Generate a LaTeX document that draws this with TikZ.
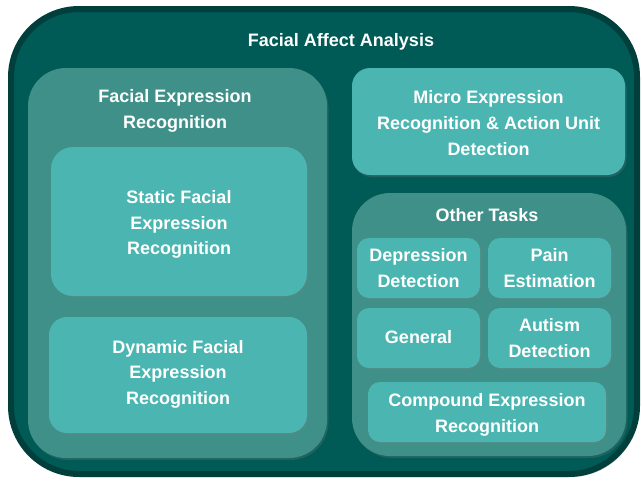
\documentclass[tikz,border=0pt]{standalone}
\usepackage{fontspec}
\setmainfont{Liberation Sans}
\usetikzlibrary{shadows}
\definecolor{outerfill}{HTML}{005A56}
\definecolor{outerline}{HTML}{003F3C}
\definecolor{panelfill}{HTML}{3F9088}
\definecolor{boxfill}{HTML}{4BB5B1}
\tikzset{
  lbl/.style={text=white, font=\bfseries\fontsize{18}{25.75}\selectfont, align=center, inner sep=0pt},
  panel/.style={rectangle, rounded corners=38pt, fill=panelfill, draw=none, inner sep=0pt,
    drop shadow={opacity=0.25, shadow xshift=1.5pt, shadow yshift=-2pt}},
  taskbox/.style={rectangle, fill=boxfill, draw=none, inner sep=0pt,
    drop shadow={opacity=0.25, shadow xshift=1.5pt, shadow yshift=-2pt}},
}
\begin{document}
\begin{tikzpicture}[x=1pt,y=-1pt]
\useasboundingbox (0,0) rectangle (642,480);
% outer container
\node[rectangle, rounded corners=68pt, fill=outerfill, draw=outerline, line width=6pt,
  minimum width=626pt, minimum height=465pt, inner sep=0pt,
  drop shadow={opacity=0.3, shadow xshift=2pt, shadow yshift=-3pt}] (outer) at (324,241.5) {};
\node[lbl] (title) at (341,41.8) {Facial Affect Analysis};
% left panel
\node[panel, minimum width=299pt, minimum height=390pt] (fer) at (177.5,263) {};
\node[lbl] (fertitle) at (175,110.8) {Facial Expression\\Recognition};
\node[taskbox, rounded corners=22pt, minimum width=256pt, minimum height=149pt] (static) at (179,221.5) {};
\node[lbl] (statictext) at (179,224.5) {Static Facial\\Expression\\Recognition};
\node[taskbox, rounded corners=18pt, minimum width=258pt, minimum height=116pt] (dynamic) at (178,375) {};
\node[lbl] (dynamictext) at (178,374.3) {Dynamic Facial\\Expression\\Recognition};
% micro
\node[taskbox, rounded corners=18pt, minimum width=273pt, minimum height=107pt] (micro) at (488.5,121.5) {};
\node[lbl] (microtext) at (488.5,123) {Micro Expression\\Recognition \& Action Unit\\Detection};
% other tasks panel
\node[panel, minimum width=274pt, minimum height=263pt] (other) at (489,324.5) {};
\node[lbl] (othertitle) at (487,215) {Other Tasks};
\node[taskbox, rounded corners=12pt, minimum width=123pt, minimum height=60pt] (depression) at (418.5,268) {};
\node[lbl] (depressiontext) at (418.5,267.7) {Depression\\Detection};
\node[taskbox, rounded corners=12pt, minimum width=123pt, minimum height=60pt] (pain) at (549.5,268) {};
\node[lbl] (paintext) at (549.5,268) {Pain\\Estimation};
\node[taskbox, rounded corners=12pt, minimum width=123pt, minimum height=60pt] (general) at (418.5,338) {};
\node[lbl] (generaltext) at (418.5,336.8) {General};
\node[taskbox, rounded corners=12pt, minimum width=123pt, minimum height=60pt] (autism) at (549.5,338) {};
\node[lbl] (autismtext) at (549.5,338) {Autism\\Detection};
\node[taskbox, rounded corners=12pt, minimum width=238pt, minimum height=60pt] (compound) at (487,412) {};
\node[lbl] (compoundtext) at (487,414.8) {Compound Expression\\Recognition};
\end{tikzpicture}
\end{document}
